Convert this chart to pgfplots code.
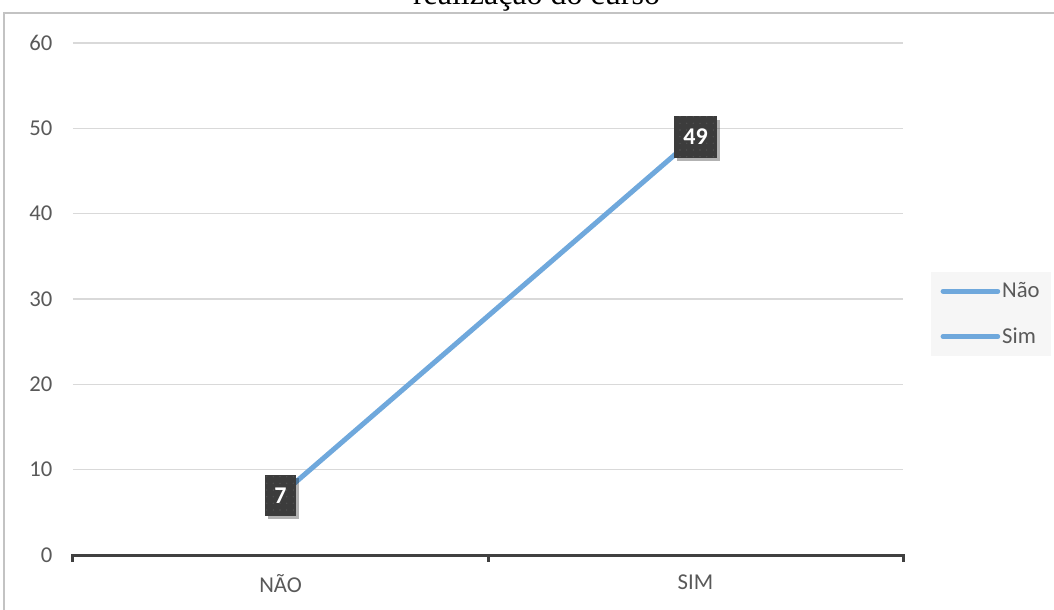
\documentclass[border=0pt]{standalone}
\usepackage{pgfplots}
\pgfplotsset{compat=1.18}
\usepackage{fontspec}
\setmainfont{Carlito}
\newfontfamily\titlefont{Liberation Serif}
\usetikzlibrary{shadows,patterns.meta}
\definecolor{lineblue}{HTML}{6FA8DC}
\definecolor{gridgray}{HTML}{D9D9D9}
\definecolor{ticktext}{HTML}{595959}
\definecolor{axisdark}{HTML}{404040}
\definecolor{labelbox}{HTML}{3C3C3C}
\definecolor{labeldot}{HTML}{505050}
\definecolor{legendfill}{HTML}{F6F6F6}
\def\u{0.75pt}
\begin{document}
\begin{tikzpicture}
\useasboundingbox (0,0) rectangle ({1054*\u},{-610*\u});
\draw[gridgray!90!black, line width={1.3*\u}] ({4*\u},{-13*\u}) rectangle ({1070*\u},{-630*\u});
\node[anchor=base, font=\titlefont\fontsize{24}{28}\selectfont, inner sep=0pt] at ({536.5*\u},{-5*\u}) {realização do curso};
\begin{axis}[
  at={({73*\u},{-555*\u})}, anchor=south west,
  scale only axis, width=622.5pt, height=384pt,
  xmin=-0.5, xmax=1.5, ymin=0, ymax=60,
  ytick={0,10,...,60},
  xtick={-0.5,0.5,1.5},
  x tick label as interval,
  xticklabels={NÃO,SIM},
  axis x line*=bottom, axis y line*=left,
  y axis line style={draw=none},
  x axis line style={axisdark, line width=2.25pt, line cap=rect},
  ymajorgrids, grid style={gridgray, line width=1.1pt},
  y tick style={draw=none},
  x tick style={axisdark, line width=2.25pt},
  major tick length=5pt,
  tick align=outside,
  /pgf/number format/assume math mode=true,
  ticklabel style={text=ticktext, font=\fontsize{17}{19}\selectfont},
  yticklabel style={xshift=-7pt},
  xticklabel style={yshift=-6pt},
  legend style={at={(1.0337,0.4707)}, anchor=west, fill=legendfill, draw=none,
     font=\fontsize{17}{19}\selectfont, text=ticktext, row sep=17pt,
     inner xsep=7pt, inner ysep=6pt, nodes={inner xsep=1.5pt}},
  legend cell align=left,
  legend image code/.code={\draw[#1, line cap=round] (0pt,0pt) -- (41pt,0pt);},
  clip=false,
]
\addplot[color=lineblue, line width=3.75pt,
  nodes near coords, point meta=y,
  every node near coord/.style={anchor=center, draw=none, fill=labelbox, text=white,
    font=\bfseries\fontsize{18}{20}\selectfont, minimum height=31pt, inner xsep=7pt,
    drop shadow={fill=black, draw=none, shadow xshift=2.5pt, shadow yshift=-2.5pt, opacity=0.3},
    postaction={draw=none, pattern={Dots[distance=5pt, radius=0.6pt]}, pattern color=labeldot}}]
  coordinates {(0,7) (1,49)};
\addlegendentry{Não}
\addlegendimage{color=lineblue, line width=3.75pt}
\addlegendentry{Sim}
\end{axis}
\end{tikzpicture}
\end{document}
